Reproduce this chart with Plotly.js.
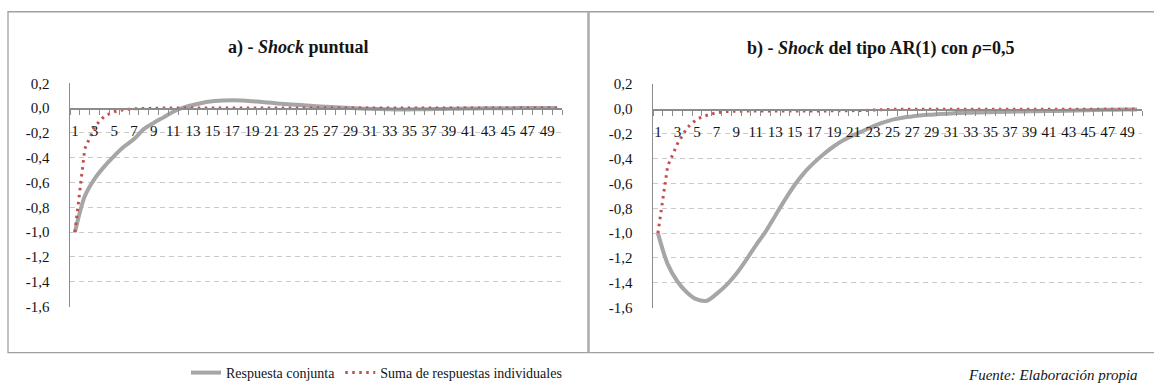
<!DOCTYPE html>
<html>
<head>
<meta charset="utf-8">
<script src="https://cdn.plot.ly/plotly-3.0.1.min.js"></script>
<style>html,body{margin:0;padding:0;background:#fff;}#chart{width:1154px;height:389px;}</style>
</head>
<body>
<div id="chart"></div>
<script>
// ---- data ----
const periods = [1,2,3,4,5,6,7,8,9,10,11,12,13,14,15,16,17,18,19,20,21,22,23,24,25,26,27,28,29,30,31,32,33,34,35,36,37,38,39,40,41,42,43,44,45,46,47,48,49,50];
const xTickVals = [1,3,5,7,9,11,13,15,17,19,21,23,25,27,29,31,33,35,37,39,41,43,45,47,49];
const xTickText = ["1","3","5","7","9","11","13","15","17","19","21","23","25","27","29","31","33","35","37","39","41","43","45","47","49"];
const yTickVals = [0.2,0,-0.2,-0.4,-0.6,-0.8,-1.0,-1.2,-1.4,-1.6];
const yTickText = ["0,2","0,0","-0,2","-0,4","-0,6","-0,8","-1,0","-1,2","-1,4","-1,6"];

const seriesNames = ["Respuesta conjunta","Suma de respuestas individuales"];

// a) Shock puntual
const conjuntaA = [-1.00,-0.71,-0.57,-0.47,-0.385,-0.31,-0.25,-0.17,-0.12,-0.075,-0.03,0.003,0.025,0.043,0.055,0.06,0.062,0.06,0.055,0.049,0.042,0.034,0.029,0.024,0.018,0.013,0.008,0.004,0.0,-0.003,-0.006,-0.008,-0.010,-0.011,-0.011,-0.010,-0.009,-0.008,-0.006,-0.005,-0.004,-0.003,-0.002,-0.001,-0.001,0,0,0,0,0];
const sumaA = [-1.00,-0.33,-0.15,-0.065,-0.03,-0.013,-0.006,-0.003,-0.001,0,0,0,0,0,0,0,0,0,0,0,0,0,0,0,0,0,0,0,0,0,0,0,0,0,0,0,0,0,0,0,0,0,0,0,0,0,0,0,0,0];

// b) Shock AR(1), rho = 0,5
const conjuntaB = [-1.00,-1.25,-1.39,-1.48,-1.535,-1.545,-1.49,-1.42,-1.33,-1.22,-1.10,-0.99,-0.86,-0.73,-0.61,-0.51,-0.43,-0.36,-0.30,-0.25,-0.21,-0.175,-0.14,-0.11,-0.085,-0.07,-0.06,-0.05,-0.045,-0.04,-0.035,-0.031,-0.029,-0.027,-0.025,-0.023,-0.021,-0.020,-0.018,-0.017,-0.016,-0.015,-0.013,-0.011,-0.009,-0.007,-0.006,-0.005,-0.004,-0.003];
const sumaB = [-1.00,-0.46,-0.28,-0.15,-0.08,-0.05,-0.03,-0.02,-0.017,-0.016,-0.016,-0.015,-0.015,-0.015,-0.015,-0.015,-0.015,-0.015,-0.015,-0.015,-0.014,-0.012,-0.008,-0.003,-0.002,-0.002,-0.002,-0.002,-0.002,-0.002,-0.002,-0.002,-0.002,-0.002,-0.002,-0.002,-0.002,-0.002,-0.002,-0.002,-0.002,-0.002,-0.002,-0.002,-0.002,-0.002,-0.002,-0.002,-0.002,-0.002];

const titleA = "<b>a) - <i>Shock</i> puntual</b>";
const titleB = "<b>b) - <i>Shock</i> del tipo AR(1) con <i>ρ</i>=0,5</b>";
const sourceText = "<i>Fuente: Elaboración propia</i>";

// ---- layout helpers (pixel -> paper) ----
const W = 1154, H = 389;
const PX = p => p / W;
const PY = p => 1 - p / H;
const SERIF = '"Liberation Serif", "Times New Roman", serif';
const GRAY = "#a6a6a6", RED = "#c0504d", AXIS = "#8c8c8c", TXT = "#141414";

const boundaries = [0.5].concat(periods.map(p => p + 0.5));

function xAxis(dom, ydom) {
  const yRange = [-1.6, 0.2];
  const frac = (0 - yRange[0]) / (yRange[1] - yRange[0]);
  return {
    domain: dom, range: [0.5, 50.5], anchor: 'free',
    position: ydom[0] + frac * (ydom[1] - ydom[0]),
    showline: true, linecolor: AXIS, linewidth: 1.5,
    showgrid: false, zeroline: false,
    tickmode: 'array', tickvals: xTickVals, ticktext: xTickText,
    ticks: '', ticklabelstandoff: 8,
    minor: {tickmode: 'array', tickvals: boundaries, ticks: 'outside', ticklen: 5, tickcolor: AXIS, tickwidth: 1, showgrid: false},
    tickfont: {family: SERIF, size: 15, color: TXT}, fixedrange: true
  };
}
function yAxis(dom, xanchor) {
  return {
    domain: dom, range: [-1.6, 0.2], anchor: xanchor,
    showline: true, linecolor: AXIS, linewidth: 1.5,
    showgrid: true, gridcolor: '#c9c9c9', gridwidth: 1, griddash: '5px,4px',
    zeroline: false, ticks: '', tickmode: 'array', tickvals: yTickVals, ticktext: yTickText,
    ticklabelstandoff: 16,
    tickfont: {family: SERIF, size: 15, color: TXT}, fixedrange: true
  };
}

const yDomA = [PY(313), PY(85)];
const yDomB = [PY(314), PY(86)];

const grayLine = {color: GRAY, width: 4, shape: 'spline', smoothing: 0.8};
const redLine = {color: RED, width: 3, dash: '2.5px,4.5px'};

const traces = [
  {x: periods, y: conjuntaA, xaxis: 'x', yaxis: 'y', mode: 'lines', name: seriesNames[0], line: grayLine, legendgroup: 'g', showlegend: true, hoverinfo: 'skip'},
  {x: periods, y: sumaA, xaxis: 'x', yaxis: 'y', mode: 'lines', name: seriesNames[1], line: redLine, legendgroup: 'r', showlegend: true, hoverinfo: 'skip'},
  {x: periods, y: conjuntaB, xaxis: 'x2', yaxis: 'y2', mode: 'lines', name: seriesNames[0], line: grayLine, legendgroup: 'g', showlegend: false, hoverinfo: 'skip'},
  {x: periods, y: sumaB, xaxis: 'x2', yaxis: 'y2', mode: 'lines', name: seriesNames[1], line: redLine, legendgroup: 'r', showlegend: false, hoverinfo: 'skip'}
];

const layout = {
  width: W, height: H,
  margin: {l: 0, r: 0, t: 0, b: 0},
  paper_bgcolor: '#fff', plot_bgcolor: 'rgba(0,0,0,0)',
  showlegend: true,
  legend: {orientation: 'h', x: PX(186), xanchor: 'left', y: PY(381), yanchor: 'middle',
           font: {family: SERIF, size: 14, color: TXT}, bgcolor: 'rgba(0,0,0,0)', borderwidth: 0},
  xaxis: xAxis([PX(70), PX(562)], yDomA),
  yaxis: yAxis(yDomA, 'x'),
  xaxis2: xAxis([PX(653), PX(1142)], yDomB),
  yaxis2: yAxis(yDomB, 'x2'),
  shapes: [
    {type: 'rect', xref: 'paper', yref: 'paper', x0: PX(8), x1: PX(588), y0: PY(360), y1: PY(12), line: {color: '#a0a0a0', width: 1.3}},
    {type: 'rect', xref: 'paper', yref: 'paper', x0: PX(589), x1: PX(1180), y0: PY(360), y1: PY(12), line: {color: '#a0a0a0', width: 1.3}}
  ],
  annotations: [
    {xref: 'paper', yref: 'paper', x: PX(298), y: PY(49), text: titleA, showarrow: false, xanchor: 'center', yanchor: 'middle', font: {family: SERIF, size: 18, color: TXT}},
    {xref: 'paper', yref: 'paper', x: PX(881), y: PY(50), text: titleB, showarrow: false, xanchor: 'center', yanchor: 'middle', font: {family: SERIF, size: 18, color: TXT}},
    {xref: 'paper', yref: 'paper', x: PX(1140), y: PY(383), text: sourceText, showarrow: false, xanchor: 'right', yanchor: 'middle', font: {family: SERIF, size: 15, color: TXT}}
  ]
};

Plotly.newPlot('chart', traces, layout, {staticPlot: true, displayModeBar: false});
</script>
</body>
</html>
